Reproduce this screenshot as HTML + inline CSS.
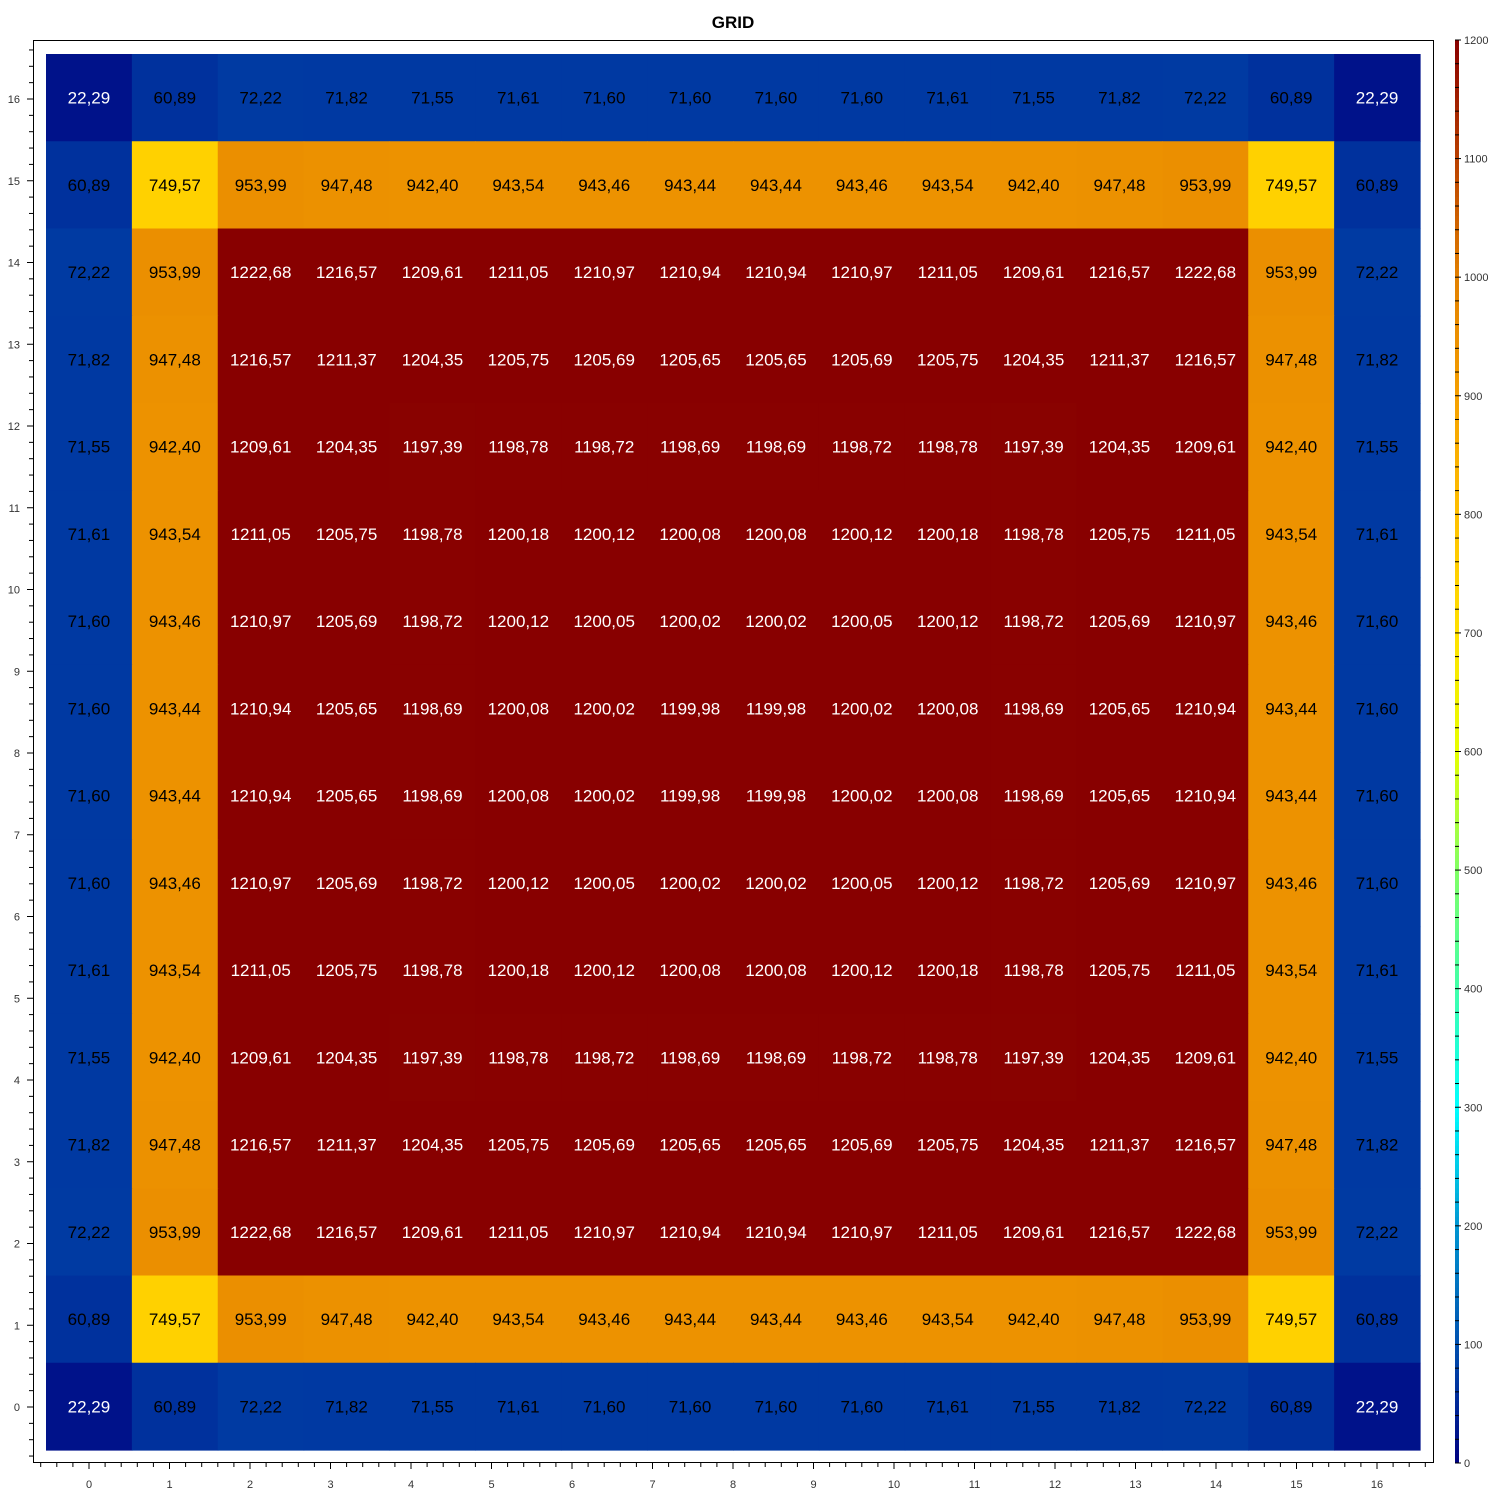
<!DOCTYPE html>
<html><head><meta charset="utf-8"><style>
html,body{margin:0;padding:0;background:#fff;}
svg{display:block;font-family:"Liberation Sans",sans-serif;}
</style></head><body>
<svg id="chart" width="1500" height="1500" viewBox="0 0 1500 1500">
<text x="733" y="28" text-anchor="middle" font-size="17" font-weight="bold">GRID</text>
<rect x="33.5" y="40.5" width="1400" height="1422" fill="none" stroke="#000" stroke-width="1"/>
<g id="cells"></g><g id="axes"></g><g id="cbar"></g>
</svg>
<script>
const rows = [
[22.29,60.89,72.22,71.82,71.55,71.61,71.60,71.60,71.60,71.60,71.61,71.55,71.82,72.22,60.89,22.29],
[60.89,749.57,953.99,947.48,942.40,943.54,943.46,943.44,943.44,943.46,943.54,942.40,947.48,953.99,749.57,60.89],
[72.22,953.99,1222.68,1216.57,1209.61,1211.05,1210.97,1210.94,1210.94,1210.97,1211.05,1209.61,1216.57,1222.68,953.99,72.22],
[71.82,947.48,1216.57,1211.37,1204.35,1205.75,1205.69,1205.65,1205.65,1205.69,1205.75,1204.35,1211.37,1216.57,947.48,71.82],
[71.55,942.40,1209.61,1204.35,1197.39,1198.78,1198.72,1198.69,1198.69,1198.72,1198.78,1197.39,1204.35,1209.61,942.40,71.55],
[71.61,943.54,1211.05,1205.75,1198.78,1200.18,1200.12,1200.08,1200.08,1200.12,1200.18,1198.78,1205.75,1211.05,943.54,71.61],
[71.60,943.46,1210.97,1205.69,1198.72,1200.12,1200.05,1200.02,1200.02,1200.05,1200.12,1198.72,1205.69,1210.97,943.46,71.60],
[71.60,943.44,1210.94,1205.65,1198.69,1200.08,1200.02,1199.98,1199.98,1200.02,1200.08,1198.69,1205.65,1210.94,943.44,71.60],
[71.60,943.44,1210.94,1205.65,1198.69,1200.08,1200.02,1199.98,1199.98,1200.02,1200.08,1198.69,1205.65,1210.94,943.44,71.60],
[71.60,943.46,1210.97,1205.69,1198.72,1200.12,1200.05,1200.02,1200.02,1200.05,1200.12,1198.72,1205.69,1210.97,943.46,71.60],
[71.61,943.54,1211.05,1205.75,1198.78,1200.18,1200.12,1200.08,1200.08,1200.12,1200.18,1198.78,1205.75,1211.05,943.54,71.61],
[71.55,942.40,1209.61,1204.35,1197.39,1198.78,1198.72,1198.69,1198.69,1198.72,1198.78,1197.39,1204.35,1209.61,942.40,71.55],
[71.82,947.48,1216.57,1211.37,1204.35,1205.75,1205.69,1205.65,1205.65,1205.69,1205.75,1204.35,1211.37,1216.57,947.48,71.82],
[72.22,953.99,1222.68,1216.57,1209.61,1211.05,1210.97,1210.94,1210.94,1210.97,1211.05,1209.61,1216.57,1222.68,953.99,72.22],
[60.89,749.57,953.99,947.48,942.40,943.54,943.46,943.44,943.44,943.46,943.54,942.40,947.48,953.99,749.57,60.89],
[22.29,60.89,72.22,71.82,71.55,71.61,71.60,71.60,71.60,71.60,71.61,71.55,71.82,72.22,60.89,22.29]
];
const xTicks = [0,1,2,3,4,5,6,7,8,9,10,11,12,13,14,15,16];
const yTicks = [0,1,2,3,4,5,6,7,8,9,10,11,12,13,14,15,16];
const cbarTicks = [0,100,200,300,400,500,600,700,800,900,1000,1100,1200];
const cmin = 0, cmax = 1200;
const stops = [[0,[0,0,128]],[100,[0,80,175]],[200,[0,150,210]],[300,[0,255,255]],[400,[64,255,170]],[500,[128,255,100]],[600,[230,255,0]],[700,[255,225,0]],[800,[255,192,0]],[900,[245,160,0]],[1000,[226,128,0]],[1100,[185,64,0]],[1200,[136,0,0]]];
function color(v){
  v=Math.max(cmin,Math.min(cmax,v));
  for(let i=1;i<stops.length;i++){ if(v<=stops[i][0]){const a=stops[i-1],b=stops[i];const t=(v-a[0])/(b[0]-a[0]);
    const c=a[1].map((x,k)=>Math.round(x+(b[1][k]-x)*t));return `rgb(${c[0]},${c[1]},${c[2]})`;}}
  return 'rgb(136,0,0)';
}
const NS='http://www.w3.org/2000/svg';
function mk(tag,attrs,parent){const e=document.createElementNS(NS,tag);for(const k in attrs)e.setAttribute(k,attrs[k]);parent.appendChild(e);return e;}
const gx0=46,gx1=1420,gy0=54,gy1=1450;
const n=rows.length,m=rows[0].length;
const cw=(gx1-gx0)/m, ch=(gy1-gy0)/n;
const cells=document.getElementById('cells');
rows.forEach((r,i)=>r.forEach((v,j)=>{
  const rc=mk('rect',{x:gx0+j*cw,y:gy0+i*ch,width:cw+0.6,height:ch+0.6,fill:color(v)},cells);
  
  
  const t=mk('text',{x:gx0+(j+0.5)*cw,y:gy0+(i+0.5)*ch+6,'text-anchor':'middle','font-size':17,fill:(v<40||v>1100)?'#fff':'#000'},cells);
  
  
  t.textContent=v.toFixed(2).replace('.',',');
}));
const ax=document.getElementById('axes');
const xs=v=>89+80.5*v, ys=v=>1407-81.75*v;
for(let k=-3;k<=84;k++){const v=k/5;const x=xs(v);if(x<35||x>1431)continue;const maj=k%5===0;
  const l=mk('line',{x1:x,x2:x,y1:1463,y2:1463+(maj?6:4),stroke:'#000'},ax);
  
  }
xTicks.forEach(v=>{const t=mk('text',{x:xs(v),y:1488,'text-anchor':'middle','font-size':11,fill:'#333'},ax);
  
  
  t.textContent=v;});
for(let k=-3;k<=88;k++){const v=k/5;const y=ys(v);if(y<42||y>1461)continue;const maj=k%5===0;
  const l=mk('line',{x1:33,x2:33-(maj?6:4),y1:y,y2:y,stroke:'#000'},ax);
  
  }
yTicks.forEach(v=>{const t=mk('text',{x:20,y:ys(v)+4,'text-anchor':'end','font-size':11,fill:'#333'},ax);
  
  
  t.textContent=v;});
const cb=document.getElementById('cbar');
const cy0=40,cy1=1463,cbx=1455,cbw=4;
const cys=v=>cy1-(v-cmin)/(cmax-cmin)*(cy1-cy0);
for(let v=0;v<1200;v+=4){const r=mk('rect',{x:cbx,y:cys(v+4),width:cbw,height:cys(v)-cys(v+4)+0.5,fill:color(v+2)},cb);
  
  }
for(let v=0;v<=1200;v+=20){const maj=v%100===0;
  const l=mk('line',{x1:cbx,x2:cbx+(maj?6:4),y1:cys(v),y2:cys(v),stroke:'#000'},cb);
  
  }
cbarTicks.forEach(v=>{const t=mk('text',{x:1464,y:cys(v)+4,'font-size':11,fill:'#333'},cb);
  
  
  t.textContent=v;});
</script>
</body></html>
